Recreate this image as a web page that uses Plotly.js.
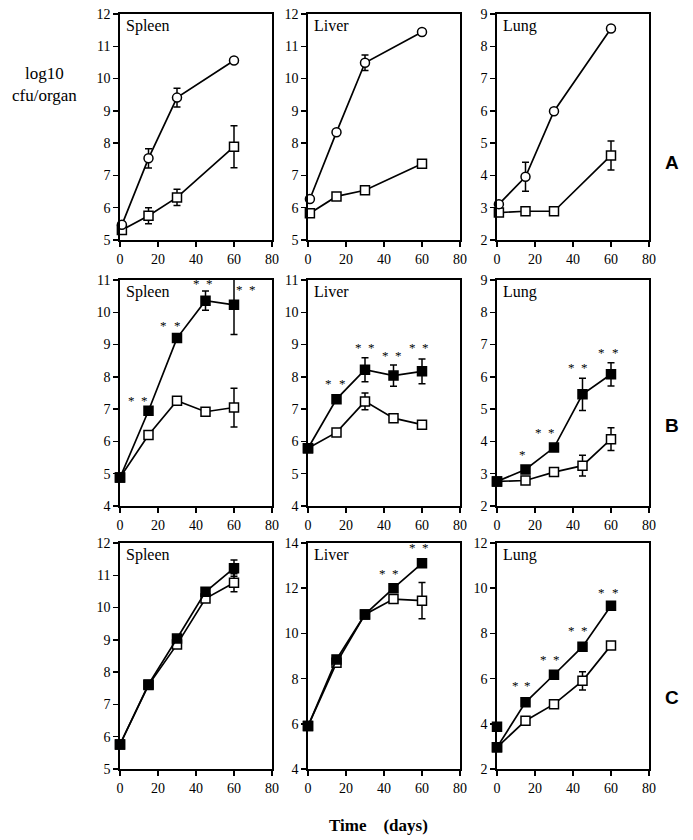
<!DOCTYPE html>
<html><head><meta charset="utf-8">
<script src="https://cdn.plot.ly/plotly-3.0.1.min.js"></script>
<style>html,body{margin:0;padding:0;background:#fff}#chart{width:693px;height:840px}</style>
</head><body><div id="chart"></div>
<script>
// ---- data ----
const organs = ["Spleen", "Liver", "Lung"];
const rowLetters = ["A", "B", "C"];
const xTicks = [0, 20, 40, 60, 80];

// Row A (open circles vs open squares)
const daysA = [1, 15, 30, 60];
const spleenA_circ = [5.47, 7.53, 9.41, 10.56];
const spleenA_circErr = [null, 0.30, 0.29, null];
const spleenA_sq = [5.31, 5.75, 6.32, 7.89];
const spleenA_sqErr = [null, 0.25, 0.25, 0.65];
const liverA_circ = [6.27, 8.34, 10.49, 11.44];
const liverA_circErr = [null, null, 0.24, null];
const liverA_sq = [5.83, 6.35, 6.54, 7.36];
const liverA_sqErr = [null, null, null, null];
const lungA_circ = [3.11, 3.96, 5.99, 8.55];
const lungA_circErr = [null, 0.45, null, null];
const lungA_sq = [2.85, 2.89, 2.89, 4.62];
const lungA_sqErr = [null, null, null, 0.45];

// Rows B and C (filled squares vs open squares)
const daysBC = [0, 15, 30, 45, 60];
const spleenB_fill = [4.88, 6.95, 9.20, 10.36, 10.23];
const spleenB_fillErr = [null, null, null, 0.30, 0.92];
const spleenB_open = [4.88, 6.20, 7.26, 6.92, 7.05];
const spleenB_openErr = [null, null, null, null, 0.60];
const liverB_fill = [5.79, 7.31, 8.22, 8.04, 8.17];
const liverB_fillErr = [null, null, 0.37, 0.33, 0.38];
const liverB_open = [5.79, 6.28, 7.24, 6.72, 6.52];
const liverB_openErr = [null, null, 0.26, null, null];
const lungB_fill = [2.76, 3.13, 3.81, 5.46, 6.08];
const lungB_fillErr = [null, null, null, 0.50, 0.36];
const lungB_open = [2.76, 2.79, 3.05, 3.25, 4.07];
const lungB_openErr = [null, null, null, 0.32, 0.35];

const spleenC_fill = [5.76, 7.62, 9.04, 10.49, 11.22];
const spleenC_fillErr = [null, null, null, null, 0.25];
const spleenC_open = [5.76, 7.60, 8.86, 10.28, 10.77];
const spleenC_openErr = [null, null, null, null, 0.28];
const liverC_fill = [5.90, 8.85, 10.84, 12.00, 13.10];
const liverC_fillErr = [null, null, null, null, null];
const liverC_open = [5.90, 8.70, 10.84, 11.52, 11.45];
const liverC_openErr = [null, null, null, null, 0.80];
const lungC_fill = [2.96, 4.95, 6.17, 7.41, 9.22];
const lungC_fillExtraDay = [0];
const lungC_fillExtra = [3.87];
const lungC_fillErr = [null, null, null, null, null];
const lungC_open = [2.96, 4.14, 4.87, 5.90, 7.47];
const lungC_openErr = [null, null, null, 0.40, null];

// significance stars per panel: x (days), y
const starsX = [
  [], [], [],
  [6, 13, 22.8, 30, 40.5, 47, 63, 69.5],
  [11, 18, 26.5, 33.5, 41, 47.8, 55, 62],
  [13.2, 21.8, 28.8, 39.3, 46, 55, 62.6],
  [],
  [39.3, 45.8, 55, 62],
  [9.5, 16.3, 24.5, 31.2, 39.3, 46, 55, 62.6]
];
const starsY = [
  [], [], [],
  [7.28, 7.28, 9.59, 9.59, 10.9, 10.9, 10.72, 10.72],
  [7.78, 7.78, 8.92, 8.92, 8.66, 8.66, 8.91, 8.91],
  [3.6, 4.28, 4.28, 6.29, 6.29, 6.75, 6.75],
  [],
  [12.67, 12.67, 13.8, 13.8],
  [5.68, 5.68, 6.86, 6.86, 8.13, 8.13, 9.83, 9.83]
];

const yRanges = [[5,12],[5,12],[2,9],[4,11],[4,11],[2,9],[5,12],[4,14],[2,12]];
const yDticks = [1,1,1,1,1,1,1,2,2];

// ---- build ----
const W = 693, H = 840;
const colPx = [[120,272],[308,460],[497,649]];
const rowPx = [[14,240],[280,506],[543,769]];
const serif = "Liberation Serif, Times New Roman, serif";

const traces = [];
const layout = {
  width: W, height: H, margin: {l:0,r:0,t:0,b:0},
  paper_bgcolor: "#fff", plot_bgcolor: "#fff", showlegend: false,
  font: {family: serif, color: "#000", size: 14},
  annotations: []
};

function addSeries(p, xs, ys, errs, symbol, fill) {
  const s = p + 1;
  traces.push({
    type: "scatter", mode: "lines+markers", x: xs, y: ys,
    xaxis: "x" + s, yaxis: "y" + s, cliponaxis: false,
    line: {color: "#000", width: 1.7},
    marker: {symbol: symbol, size: 9, color: fill, line: {color: "#000", width: 1.5}},
    error_y: {type: "data", array: errs, visible: true, color: "#000", thickness: 1.5, width: 3.5}
  });
}

const rowA = [
  [spleenA_circ, spleenA_circErr, spleenA_sq, spleenA_sqErr],
  [liverA_circ, liverA_circErr, liverA_sq, liverA_sqErr],
  [lungA_circ, lungA_circErr, lungA_sq, lungA_sqErr]
];
const rowBC = [
  [spleenB_fill, spleenB_fillErr, spleenB_open, spleenB_openErr],
  [liverB_fill, liverB_fillErr, liverB_open, liverB_openErr],
  [lungB_fill, lungB_fillErr, lungB_open, lungB_openErr],
  [spleenC_fill, spleenC_fillErr, spleenC_open, spleenC_openErr],
  [liverC_fill, liverC_fillErr, liverC_open, liverC_openErr],
  [lungC_fill, lungC_fillErr, lungC_open, lungC_openErr]
];

for (let p = 0; p < 9; p++) {
  const r = Math.floor(p / 3), c = p % 3, s = p + 1;
  const sfx = s === 1 ? "" : String(s);
  layout["xaxis" + sfx] = {
    domain: [colPx[c][0]/W, colPx[c][1]/W], anchor: "y" + s,
    range: [0, 80], tickvals: xTicks, ticktext: xTicks.map(String),
    showgrid: false, zeroline: false, showline: true, linecolor: "#000", linewidth: 1.8,
    mirror: true, ticks: "outside", ticklen: 5, tickwidth: 1.5, tickcolor: "#000",
    tickfont: {family: serif, size: 14, color: "#000"}, fixedrange: true
  };
  layout["yaxis" + sfx] = {
    domain: [1 - rowPx[r][1]/H, 1 - rowPx[r][0]/H], anchor: "x" + s,
    range: yRanges[p], dtick: yDticks[p], tick0: 0,
    showgrid: false, zeroline: false, showline: true, linecolor: "#000", linewidth: 1.8,
    mirror: true, ticks: "outside", ticklen: 5, tickwidth: 1.5, tickcolor: "#000",
    tickfont: {family: serif, size: 14, color: "#000"}, fixedrange: true
  };
  layout.annotations.push({
    xref: "x" + s + " domain", yref: "y" + s + " domain", x: 0.025, y: 0.995,
    xanchor: "left", yanchor: "top", showarrow: false, text: organs[c],
    font: {family: serif, size: 16, color: "#000"}
  });
  if (r === 0) {
    addSeries(p, daysA, rowA[c][2], rowA[c][3], "square", "#fff");
    addSeries(p, daysA, rowA[c][0], rowA[c][1], "circle", "#fff");
  } else {
    const d = rowBC[p - 3];
    addSeries(p, daysBC, d[2], d[3], "square", "#fff");
    addSeries(p, daysBC, d[0], d[1], "square", "#000");
  }
  starsX[p].forEach((sx, i) => layout.annotations.push({
    xref: "x" + s, yref: "y" + s, x: sx, y: starsY[p][i],
    xanchor: "center", yanchor: "middle", showarrow: false, text: "*",
    font: {family: serif, size: 13, color: "#000"}
  }));
}
// extra filled marker (lung C, day 0)
traces.push({
  type: "scatter", mode: "markers", x: lungC_fillExtraDay, y: lungC_fillExtra,
  xaxis: "x9", yaxis: "y9", cliponaxis: false,
  marker: {symbol: "square", size: 9, color: "#000", line: {color: "#000", width: 1.5}}
});

// row letters
const letterY = [163, 425, 697];
rowLetters.forEach((L, i) => layout.annotations.push({
  xref: "paper", yref: "paper", x: 672/W, y: 1 - letterY[i]/H, xanchor: "center", yanchor: "middle",
  showarrow: false, text: "<b>" + L + "</b>", font: {family: "Liberation Sans, Arial, sans-serif", size: 19, color: "#000"}
}));
// y label
layout.annotations.push({
  xref: "paper", yref: "paper", x: 45/W, y: 1 - 85/H, xanchor: "center", yanchor: "middle",
  showarrow: false, align: "center", text: "log10<br>cfu/organ",
  font: {family: serif, size: 17, color: "#000"}
});
// x label
layout.annotations.push({
  xref: "paper", yref: "paper", x: 378/W, y: 1 - 825/H, xanchor: "center", yanchor: "middle",
  showarrow: false, text: "<b>Time\u00a0\u00a0\u00a0\u00a0(days)</b>",
  font: {family: serif, size: 17, color: "#000"}
});

Plotly.newPlot("chart", traces, layout, {staticPlot: true});
</script></body></html>
